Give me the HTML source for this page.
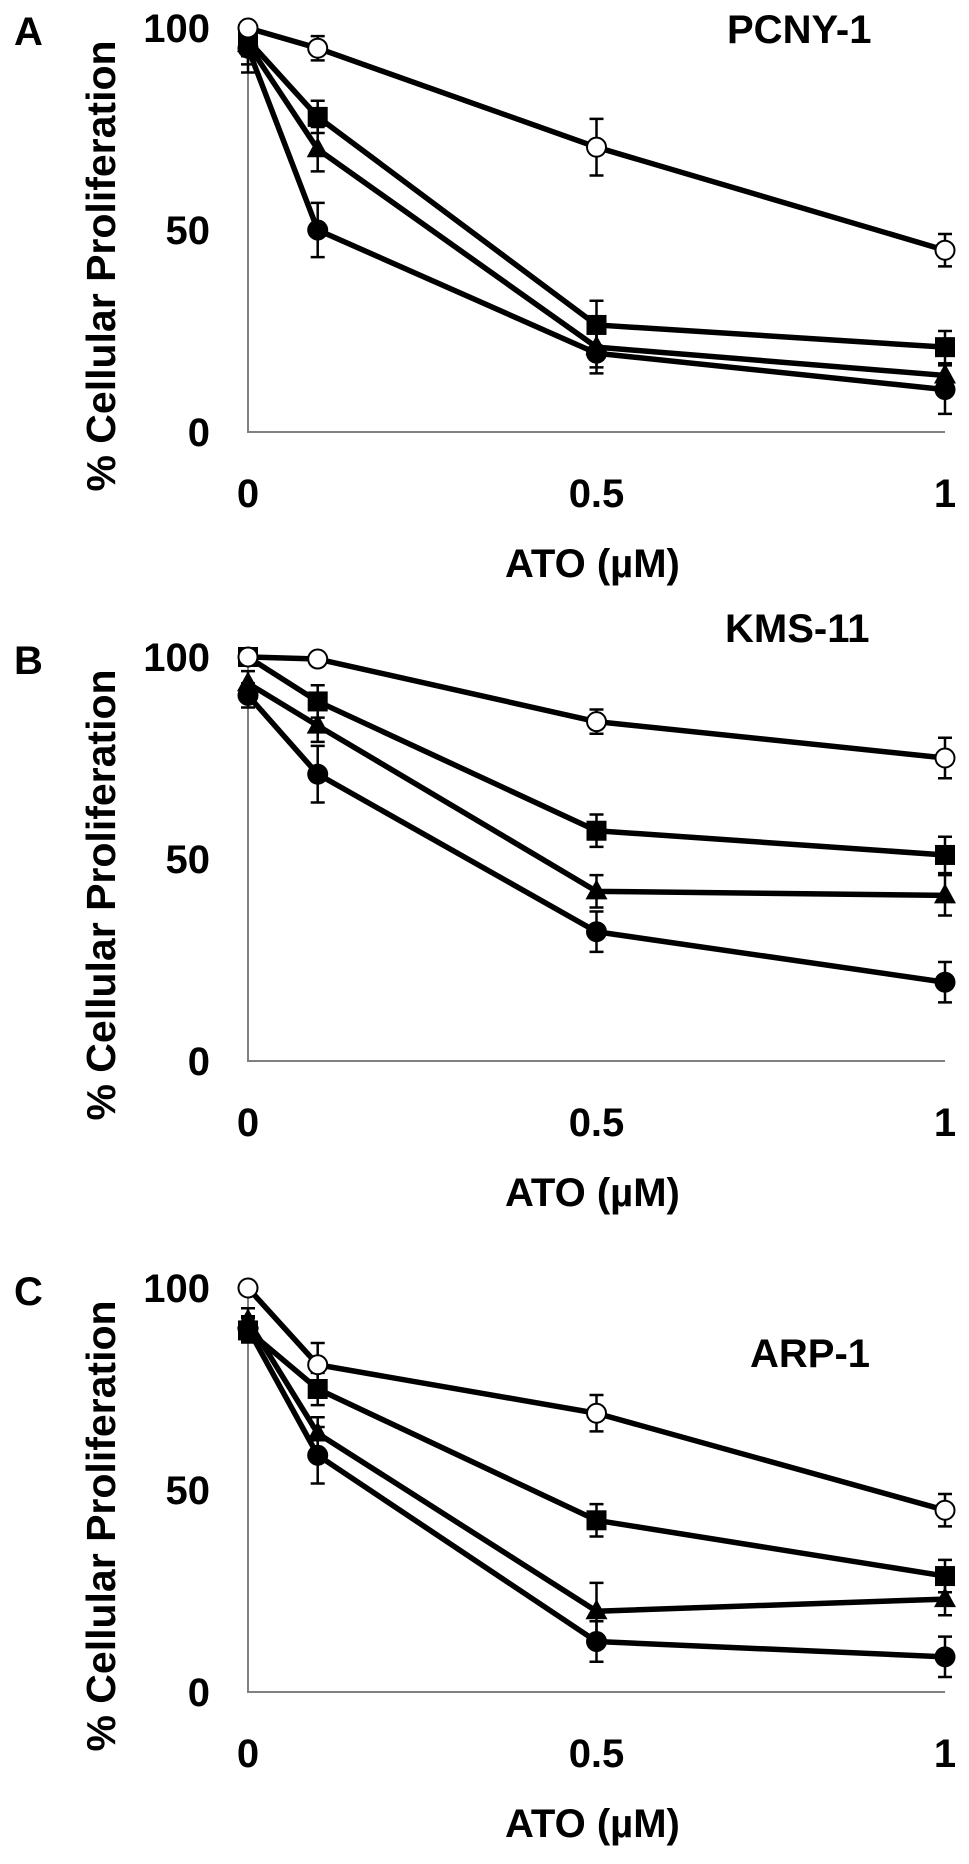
<!DOCTYPE html>
<html><head><meta charset="utf-8"><style>
html,body{margin:0;padding:0;background:#fff;}
svg text{font-family:"Liberation Sans",Arial,sans-serif;font-weight:bold;fill:#000;}
</style></head><body>
<svg id="fig" width="969" height="1859" viewBox="0 0 969 1859" xmlns="http://www.w3.org/2000/svg"></svg>
<script>
// shared data
const doses = [0, 0.1, 0.5, 1];
const xTicks = [0, 0.5, 1];
const xTickLabels = ["0", "0.5", "1"];
const yTicks = [0, 50, 100];
const yTickLabels = ["0", "50", "100"];
const seriesNames = ["open-circle", "square", "triangle", "filled-circle"];
const panelLetters = ["A", "B", "C"];
const panelTitles = ["PCNY-1", "KMS-11", "ARP-1"];
// panel A values
const aOpen = [100, 95, 70.5, 45];
const aSquare = [97, 78, 26.5, 21];
const aTriangle = [96, 70, 21, 14];
const aCircle = [95, 50, 19.5, 10.5];
const aOpenErr = [1, 3, 7, 4];
const aSquareErr = [4, 4, 6, 4];
const aTriangleErr = [5, 5.5, 5, 3];
const aCircleErr = [6, 6.7, 5, 6];
// panel B values
const bOpen = [100, 99.5, 84, 75];
const bSquare = [100, 89, 57, 51];
const bTriangle = [93.5, 83, 42, 41];
const bCircle = [90.5, 71, 32, 19.5];
const bOpenErr = [1, 1, 3, 5];
const bSquareErr = [2, 4, 4, 4.5];
const bTriangleErr = [3, 4, 4, 5];
const bCircleErr = [3, 7, 5, 5];
// panel C values
const cOpen = [100, 81, 69, 45];
const cSquare = [89.5, 75, 42.5, 28.7];
const cTriangle = [92, 64, 20, 23];
const cCircle = [90, 58.6, 12.5, 8.7];
const cOpenErr = [1, 5.4, 4.5, 4];
const cSquareErr = [3, 4, 4, 4];
const cTriangleErr = [3, 4, 7, 4];
const cCircleErr = [3, 7, 5, 5];

const panelValues = [[aOpen,aSquare,aTriangle,aCircle],[bOpen,bSquare,bTriangle,bCircle],[cOpen,cSquare,cTriangle,cCircle]];
const panelErrs = [[aOpenErr,aSquareErr,aTriangleErr,aCircleErr],[bOpenErr,bSquareErr,bTriangleErr,bCircleErr],[cOpenErr,cSquareErr,cTriangleErr,cCircleErr]];
const panelZeroY = [432, 1061, 1692];

const NS = "http://www.w3.org/2000/svg";
const svg = document.getElementById("fig");
const X0 = 248, X1 = 945, PXU = 4.04;
function xScale(d){ return X0 + (X1 - X0) * d; }
function mk(tag, attrs, parent){ const e = document.createElementNS(NS, tag); for (const k in attrs) e.setAttribute(k, attrs[k]); (parent||svg).appendChild(e); return e; }

panelValues.forEach((vals, p) => {
  const y0 = panelZeroY[p];
  const yScale = v => y0 - v * PXU;
  const g = mk("g", {});
  
  
  // letter
  const L = mk("text", {x: 14, y: y0 - 387, "font-size": 40}, g);
  L.textContent = panelLetters[p];
  
  
  // axes
  const ax = mk("path", {d: `M${X0} ${yScale(100)} L${X0} ${y0} L${xScale(1)} ${y0}`, fill: "none", stroke: "#808080", "stroke-width": 2}, g);
  
  
  yTicks.forEach((t, i) => {
    const tx = mk("text", {x: 210, y: yScale(t) + 14, "font-size": 40, "text-anchor": "end"}, g);
    tx.textContent = yTickLabels[i];
    
    
  });
  xTicks.forEach((t, i) => {
    const tx = mk("text", {x: xScale(t), y: y0 + 75, "font-size": 40, "text-anchor": "middle"}, g);
    tx.textContent = xTickLabels[i];
    
    
  });
  const xt = mk("text", {x: 505, y: y0 + 145, "font-size": 40}, g);
  xt.textContent = "ATO (µM)";
  
  
  const cy = y0 - 166;
  const yt = mk("text", {x: 115, y: cy, "font-size": 41, "text-anchor": "middle", transform: `rotate(-90 115 ${cy})`}, g);
  yt.textContent = "% Cellular Proliferation";
  
  
  const titleX = [727, 725, 750][p], titleY = [43, 642, 1367][p];
  const tt = mk("text", {x: titleX, y: titleY, "font-size": 40}, g);
  tt.textContent = panelTitles[p];
  
  
  // series (draw last series first so open circle on top)
  for (let s = vals.length - 1; s >= 0; s--) {
    const v = vals[s], er = panelErrs[p][s];
    const sg = mk("g", {}, g);
    
    
    doses.forEach((d, i) => {
      const x = xScale(d);
      const e = mk("path", {d: `M${x} ${yScale(v[i]+er[i])} V${yScale(v[i]-er[i])} M${x-7} ${yScale(v[i]+er[i])} H${x+7} M${x-7} ${yScale(v[i]-er[i])} H${x+7}`, stroke: "#000", "stroke-width": 2.5, fill: "none"}, sg);
      
      
    });
    const pts = doses.map((d, i) => xScale(d) + "," + yScale(v[i])).join(" ");
    const ln = mk("polyline", {points: pts, fill: "none", stroke: "#000", "stroke-width": 5.5, "stroke-linejoin": "round"}, sg);
    
    
    doses.forEach((d, i) => {
      const x = xScale(d), y = yScale(v[i]);
      let m;
      if (s === 0) m = mk("circle", {cx: x, cy: y, r: 9.5, fill: "#fff", stroke: "#000", "stroke-width": 2}, sg);
      else if (s === 1) m = mk("rect", {x: x - 10, y: y - 10, width: 20, height: 20, fill: "#000"}, sg);
      else if (s === 2) m = mk("polygon", {points: `${x},${y-12} ${x-11},${y+8} ${x+11},${y+8}`, fill: "#000"}, sg);
      else m = mk("circle", {cx: x, cy: y, r: 10.5, fill: "#000"}, sg);
      
      
    });
  }
});
</script>
</body></html>
